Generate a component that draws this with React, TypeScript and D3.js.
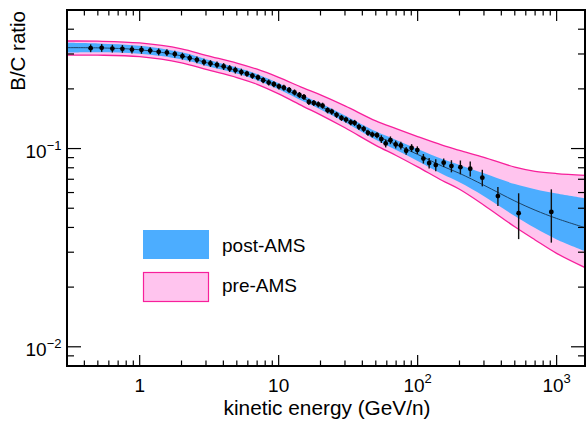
import React from 'react';
import * as d3 from 'd3';

// ---- data: AMS-like B/C points (kinetic energy GeV/n, ratio, relative error)
const energy = [0.444,0.533,0.636,0.751,0.880,1.03,1.19,1.37,1.57,1.79,2.03,2.29,2.58,2.90,3.23,3.60,4.02,4.44,4.88,5.39,5.91,6.47,7.10,7.74,8.48,9.24,10.05,10.9,11.9,13.0,14.1,15.2,16.5,17.9,19.3,20.7,22.5,24.1,26.1,28.3,30.5,33.0,35.2,37.8,40.9,43.9,47.2,51.0,54.8,58.9,63.7,69.5,75.7,82.7,90.5,99.5,110,121,135,154,175,203,239,292,378,533,916];
const ratio = [0.3209,0.3221,0.3195,0.3184,0.3158,0.3148,0.3122,0.3075,0.3051,0.2995,0.2926,0.2859,0.2803,0.2730,0.2686,0.2646,0.2595,0.2535,0.2489,0.2431,0.2384,0.2329,0.2284,0.2211,0.2153,0.2111,0.2058,0.2028,0.1975,0.1920,0.1864,0.1821,0.1719,0.1699,0.1671,0.1646,0.1560,0.1536,0.1479,0.1428,0.1400,0.1357,0.1348,0.1287,0.1258,0.1201,0.1177,0.1168,0.1117,0.1061,0.1102,0.1049,0.1036,0.0975,0.1007,0.0982,0.0890,0.0845,0.0825,0.0849,0.0816,0.0806,0.0791,0.0713,0.0576,0.0472,0.0479];
const relErr = [0.045,0.045,0.045,0.045,0.045,0.045,0.04,0.04,0.04,0.04,0.04,0.04,0.04,0.04,0.04,0.04,0.04,0.04,0.04,0.04,0.035,0.035,0.035,0.035,0.035,0.035,0.035,0.035,0.035,0.035,0.035,0.035,0.035,0.035,0.035,0.035,0.035,0.035,0.035,0.035,0.035,0.035,0.035,0.035,0.035,0.035,0.035,0.035,0.045,0.045,0.045,0.045,0.045,0.045,0.045,0.045,0.055,0.06,0.07,0.05,0.07,0.08,0.087,0.096,0.11,0.26,0.30];

// ---- model bands
const bandE = [0.3,0.5,1,2,3,5,7,10,15,20,30,50,70,100,150,200,300,500,700,1000,1600];
const center = [0.3228,0.3221,0.3151,0.2936,0.2717,0.2474,0.2292,0.2061,0.1791,0.1633,0.1413,0.1166,0.1048,0.0934,0.0816,0.0750,0.0653,0.0544,0.0489,0.0444,0.0399];
const postLo = [0.3047,0.3058,0.3009,0.2819,0.2615,0.2390,0.2214,0.1991,0.1730,0.1574,0.1357,0.1107,0.0983,0.0866,0.0744,0.0676,0.0575,0.0457,0.0397,0.0348,0.0304];
const postHi = [0.3420,0.3393,0.3300,0.3057,0.2823,0.2561,0.2373,0.2134,0.1854,0.1691,0.1468,0.1221,0.1104,0.0995,0.0885,0.0827,0.0750,0.0662,0.0624,0.0593,0.0561];
const preLo = [0.2960,0.2960,0.2906,0.2708,0.2506,0.2282,0.2109,0.1887,0.1633,0.1480,0.1273,0.1038,0.0923,0.0808,0.0690,0.0623,0.0518,0.0403,0.0346,0.0296,0.0251];
const preHi = [0.3488,0.3481,0.3409,0.3184,0.2953,0.2701,0.2514,0.2287,0.2022,0.1865,0.1642,0.1379,0.1261,0.1150,0.1041,0.0979,0.0903,0.0806,0.0768,0.0748,0.0733];

// ---- axes
const xDomain = [0.3, 1600];
const yDomain = [0.008, 0.5];
const xTickLabels = [
  { v: 1, base: '1', sup: '' },
  { v: 10, base: '10', sup: '' },
  { v: 100, base: '10', sup: '2' },
  { v: 1000, base: '10', sup: '3' },
];
const yTickLabels = [
  { v: 0.01, base: '10', sup: '\u22122' },
  { v: 0.1, base: '10', sup: '\u22121' },
];
const legendItems = ['post-AMS', 'pre-AMS'];
const xTitle = 'kinetic energy (GeV/n)';
const yTitle = 'B/C ratio';

const W = 586, H = 423;
const L = 67, R = 585, T = 10, B = 366;
const FONT = "'Liberation Sans', Arial, Helvetica, sans-serif";
const BLUE = '#4cadff';
const PINK_FILL = '#ffc4ee';
const PINK_LINE = '#f7209b';

function logTicks(d: number[]) {
  const out: { v: number; major: boolean }[] = [];
  for (let k = -3; k <= 4; k++) {
    for (let m = 1; m <= 9; m++) {
      const v = m * Math.pow(10, k);
      if (v >= d[0] * 0.999 && v <= d[1] * 1.001) out.push({ v, major: m === 1 });
    }
  }
  return out;
}

export default function App() {
  const x = d3.scaleLog().domain(xDomain).range([L, R]);
  const y = d3.scaleLog().domain(yDomain).range([B, T]);
  const idx = d3.range(bandE.length);
  const curve = d3.curveCatmullRom.alpha(0.5);
  const area = (lo: number[], hi: number[]) =>
    d3.area<number>().x(i => x(bandE[i])).y0(i => y(lo[i])).y1(i => y(hi[i])).curve(curve)(idx) || '';
  const line = (vals: number[]) =>
    d3.line<number>().x(i => x(bandE[i])).y(i => y(vals[i])).curve(curve)(idx) || '';

  const xt = logTicks(xDomain);
  const yt = logTicks(yDomain);

  return (
    <svg width={W} height={H} style={{ position: 'absolute', left: 0, top: 0, background: '#fff' }} fontFamily={FONT}>
      <defs>
        <clipPath id="frame"><rect x={L} y={T} width={R - L} height={B - T} /></clipPath>
      </defs>
      <g clipPath="url(#frame)">
        <path d={area(preLo, preHi)} fill={PINK_FILL} />
        <path d={area(postLo, postHi)} fill={BLUE} />
        <path d={line(preHi)} fill="none" stroke={PINK_LINE} strokeWidth={1.3} />
        <path d={line(preLo)} fill="none" stroke={PINK_LINE} strokeWidth={1.3} />
        <path d={line(center)} fill="none" stroke="#1d4468" strokeWidth={1} />
        {energy.map((e, i) => {
          const v = ratio[i], s = v * relErr[i];
          return (
            <g key={i}>
              <line x1={x(e)} x2={x(e)} y1={y(v + s)} y2={y(Math.max(v - s, 1e-4))} stroke="#111" strokeWidth={1.4} />
              <circle cx={x(e)} cy={y(v)} r={2.4} fill="#000" />
            </g>
          );
        })}
      </g>
      {/* ticks */}
      {xt.map((t, i) => {
        const len = t.major ? 11 : 5.5;
        const px = x(t.v);
        return (
          <g key={'x' + i} stroke="#000" strokeWidth={1.2}>
            <line x1={px} x2={px} y1={B} y2={B - len} />
            <line x1={px} x2={px} y1={T} y2={T + len} />
          </g>
        );
      })}
      {yt.map((t, i) => {
        const len = t.major ? 14 : 7;
        const py = y(t.v);
        return (
          <g key={'y' + i} stroke="#000" strokeWidth={1.2}>
            <line x1={L} x2={L + len} y1={py} y2={py} />
            <line x1={R} x2={R - len} y1={py} y2={py} />
          </g>
        );
      })}
      <rect x={L} y={T} width={R - L} height={B - T} fill="none" stroke="#000" strokeWidth={2} />
      {/* tick labels */}
      {xTickLabels.map((t, i) => (
        <text key={'xl' + i} x={x(t.v)} y={392} fontSize={19} textAnchor="middle" fill="#000">
          {t.base}
          {t.sup && <tspan fontSize={13} dy={-9}>{t.sup}</tspan>}
        </text>
      ))}
      {yTickLabels.map((t, i) => (
        <text key={'yl' + i} x={61.5} y={y(t.v) + 9} fontSize={19} textAnchor="end" fill="#000">
          {t.base}
          <tspan fontSize={13} dy={-8}>{t.sup}</tspan>
        </text>
      ))}
      {/* titles */}
      <text x={(L + R) / 2 + 1} y={415} fontSize={20.8} textAnchor="middle" fill="#000">{xTitle}</text>
      <text transform={`translate(25,${T + 1}) rotate(-90)`} fontSize={20.5} textAnchor="end" fill="#000">{yTitle}</text>
      {/* legend */}
      <rect x={143} y={230} width={66} height={29} fill={BLUE} />
      <text x={222} y={252} fontSize={19} fill="#000">{legendItems[0]}</text>
      <rect x={143.5} y={272.5} width={65} height={29} fill={PINK_FILL} stroke={PINK_LINE} strokeWidth={1.2} />
      <text x={222} y={292} fontSize={19} fill="#000">{legendItems[1]}</text>
    </svg>
  );
}
